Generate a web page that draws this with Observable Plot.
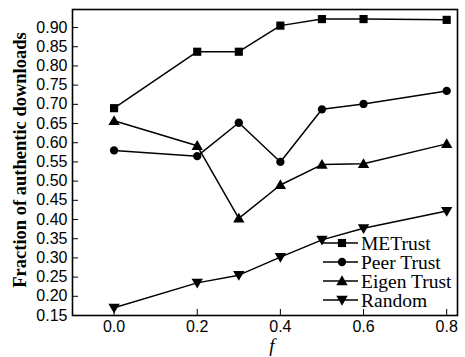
<!DOCTYPE html>
<html><head><meta charset="utf-8">
<script src="https://cdn.jsdelivr.net/npm/d3@7"></script>
<script src="https://cdn.jsdelivr.net/npm/@observablehq/plot@0.6"></script>
<style>
html,body{margin:0;padding:0;background:#fff;}
#chart{position:relative;width:465px;height:357px;}
</style></head>
<body><div id="chart"></div>
<script>
const fValues = [0.0, 0.2, 0.3, 0.4, 0.5, 0.6, 0.8];
const seriesNames = ["METrust", "Peer Trust", "Eigen Trust", "Random"];
const metrust    = [0.690, 0.837, 0.837, 0.905, 0.922, 0.922, 0.920];
const peerTrust  = [0.580, 0.565, 0.652, 0.550, 0.687, 0.701, 0.735];
const eigenTrust = [0.657, 0.592, 0.403, 0.490, 0.543, 0.545, 0.597];
const randomVals = [0.170, 0.235, 0.255, 0.302, 0.347, 0.377, 0.422];
const xTicks = [0.0, 0.2, 0.4, 0.6, 0.8];
const yTicks = [0.15,0.20,0.25,0.30,0.35,0.40,0.45,0.50,0.55,0.60,0.65,0.70,0.75,0.80,0.85,0.90];

const triDown = {draw(ctx, size){ const h = Math.sqrt(size)*0.62; ctx.moveTo(-h*1.1,-h*0.8); ctx.lineTo(h*1.1,-h*0.8); ctx.lineTo(0,h*1.1); ctx.closePath(); }};
const triUp = {draw(ctx, size){ const h = Math.sqrt(size)*0.62; ctx.moveTo(-h*1.1,h*0.8); ctx.lineTo(h*1.1,h*0.8); ctx.lineTo(0,-h*1.1); ctx.closePath(); }};
const sq = {draw(ctx, size){ const s = Math.sqrt(size)/2; ctx.rect(-s,-s,2*s,2*s); }};
const circ = {draw(ctx, size){ const r = Math.sqrt(size)/2; ctx.moveTo(r,0); ctx.arc(0,0,r,0,2*Math.PI); }};

const symbols = [sq, circ, triUp, triDown];
const sizes = [4.6, 4.7, 4.7, 4.7];
const allVals = [metrust, peerTrust, eigenTrust, randomVals];
const data = [];
allVals.forEach((vals, s) => vals.forEach((v, i) => data.push({series: seriesNames[s], f: fValues[i], v})));

// custom legend mark
function legendMark() {
  return (index, scales, values, dims) => {
    const g = d3.create("svg:g").attr("text-anchor", "start");
    const x0 = dims.width - dims.marginRight - 134;
    const y0 = dims.height - dims.marginBottom - 72;
    seriesNames.forEach((name, i) => {
      const y = y0 + i * 19;
      g.append("line").attr("x1", x0).attr("x2", x0 + 35).attr("y1", y).attr("y2", y)
        .attr("stroke", "black").attr("stroke-width", 1.5);
      const r = sizes[i];
      g.append("path").attr("transform", `translate(${x0 + 19},${y})`)
        .attr("d", d3.symbol(symbols[i], Math.PI * r * r)()).attr("fill", "black");
      g.append("text").attr("x", x0 + 38).attr("y", y).attr("dy", "0.35em").attr("text-anchor", "start")
        .attr("font-family", "Liberation Serif").attr("font-size", 19.5).attr("fill", "black").text(name);
    });
    return g.node();
  };
}

const marks = [
  Plot.frame({stroke: "black", strokeWidth: 1.6}),
  Plot.axisX({ticks: xTicks, tickSize: -6, tickPadding: 11, tickFormat: d3.format(".1f"), fontSize: 16, fontFamily: "Liberation Sans", label: null}),
  Plot.axisY({ticks: yTicks, tickSize: -6, tickPadding: 11, tickFormat: d3.format(".2f"), fontSize: 16, fontFamily: "Liberation Sans", label: null}),
];
seriesNames.forEach((name, i) => {
  const d = data.filter(e => e.series === name);
  marks.push(Plot.line(d, {x: "f", y: "v", stroke: "black", strokeWidth: 1.5}));
  marks.push(Plot.dot(d, {x: "f", y: "v", symbol: symbols[i], r: sizes[i], fill: "black", stroke: "none"}));
});
marks.push(legendMark());

const chart = Plot.plot({
  width: 465, height: 357,
  marginLeft: 72, marginRight: 8, marginTop: 9, marginBottom: 42,
  style: {background: "white", color: "black", overflow: "visible"},
  x: {domain: [-0.1, 0.826], axis: null},
  y: {domain: [0.15, 0.947], axis: null},
  marks
});
document.getElementById("chart").appendChild(chart);

// axis titles as SVG text
const svg = d3.select(chart);
svg.append("text").attr("transform", "translate(20,160) rotate(-90)").attr("text-anchor", "middle")
  .attr("dy", "0.35em").attr("font-family", "Liberation Serif").attr("font-weight", "bold").attr("font-size", 18.5).attr("fill", "black")
  .text("Fraction of authentic downloads");
svg.append("text").attr("x", 272).attr("y", 346).attr("text-anchor", "middle").attr("dy", "0.32em")
  .attr("font-family", "Liberation Serif").attr("font-style", "italic").attr("font-size", 19).attr("fill", "black")
  .text("f");
</script></body></html>
